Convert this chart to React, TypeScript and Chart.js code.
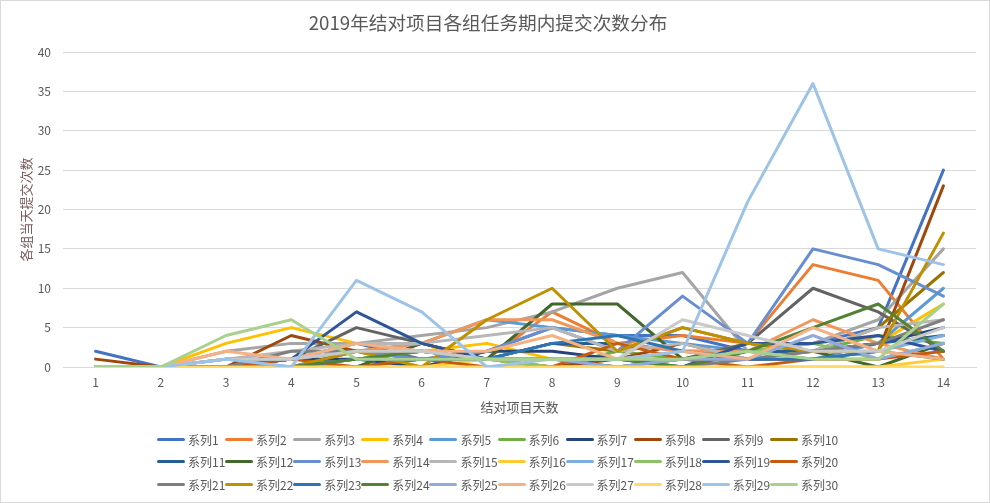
import React, { useEffect, useRef } from "react";
import { Chart, registerables } from "chart.js";

Chart.register(...registerables);

const chartTitle = "2019年结对项目各组任务期内提交次数分布";
const xTitle = "结对项目天数";
const yTitle = "各组当天提交次数";
const days = ["1", "2", "3", "4", "5", "6", "7", "8", "9", "10", "11", "12", "13", "14"];

const series01 = [2, 0, 0, 1, 3, 1, 2, 5, 4, 4, 2, 3, 5, 25];
const series02 = [0, 0, 0, 0, 2, 1, 1, 7, 3, 4, 3, 13, 11, 1];
const series03 = [0, 0, 2, 3, 3, 4, 5, 7, 10, 12, 2, 3, 6, 15];
const series04 = [0, 0, 3, 5, 3, 2, 3, 1, 0, 1, 3, 2, 3, 8];
const series05 = [0, 0, 1, 0, 2, 3, 6, 5, 4, 3, 2, 1, 3, 10];
const series06 = [0, 0, 0, 0, 0, 1, 1, 0, 2, 1, 3, 2, 4, 3];
const series07 = [0, 0, 0, 1, 1, 0, 2, 2, 1, 1, 2, 2, 3, 5];
const series08 = [1, 0, 0, 4, 2, 1, 1, 0, 1, 3, 1, 1, 2, 23];
const series09 = [0, 0, 0, 1, 5, 3, 1, 1, 0, 1, 3, 10, 7, 2];
const series10 = [0, 0, 0, 0, 0, 1, 1, 3, 2, 5, 3, 2, 5, 12];
const series11 = [0, 0, 0, 0, 1, 2, 1, 3, 3, 2, 2, 2, 3, 4];
const series12 = [0, 0, 0, 0, 0, 3, 1, 8, 8, 1, 1, 2, 0, 3];
const series13 = [0, 0, 1, 1, 2, 1, 2, 5, 2, 9, 3, 15, 13, 9];
const series14 = [0, 0, 0, 1, 2, 3, 6, 6, 3, 2, 2, 6, 3, 1];
const series15 = [0, 0, 1, 2, 3, 3, 4, 5, 2, 3, 1, 2, 5, 6];
const series16 = [0, 0, 0, 0, 0, 0, 1, 0, 0, 0, 0, 0, 0, 1];
const series17 = [0, 0, 1, 1, 2, 2, 1, 1, 1, 1, 2, 1, 2, 4];
const series18 = [0, 0, 0, 0, 1, 2, 1, 0, 0, 1, 2, 3, 1, 3];
const series19 = [0, 0, 0, 1, 7, 3, 1, 1, 1, 0, 3, 3, 4, 2];
const series20 = [0, 0, 0, 1, 0, 1, 0, 0, 3, 1, 0, 1, 1, 2];
const series21 = [0, 0, 0, 2, 2, 2, 1, 1, 1, 0, 1, 2, 3, 6];
const series22 = [0, 0, 0, 0, 2, 0, 6, 10, 2, 5, 3, 2, 2, 17];
const series23 = [0, 0, 0, 0, 1, 1, 1, 3, 4, 2, 1, 1, 2, 1];
const series24 = [0, 0, 0, 0, 1, 2, 1, 1, 1, 0, 2, 5, 8, 2];
const series25 = [0, 0, 1, 1, 3, 2, 1, 1, 0, 1, 1, 4, 1, 3];
const series26 = [0, 0, 2, 1, 3, 2, 2, 4, 1, 2, 1, 5, 2, 1];
const series27 = [0, 0, 1, 1, 2, 2, 1, 1, 1, 6, 4, 2, 2, 5];
const series28 = [0, 0, 0, 0, 0, 0, 0, 0, 0, 0, 0, 0, 0, 0];
const series29 = [0, 0, 1, 0, 11, 7, 0, 1, 1, 2, 21, 36, 15, 13];
const series30 = [0, 0, 4, 6, 1, 1, 1, 1, 1, 1, 2, 1, 1, 8];

const seriesValues = [
  series01, series02, series03, series04, series05, series06, series07, series08, series09, series10,
  series11, series12, series13, series14, series15, series16, series17, series18, series19, series20,
  series21, series22, series23, series24, series25, series26, series27, series28, series29, series30,
];

const seriesNames = seriesValues.map((_, i) => "系列" + (i + 1));

const seriesColors = [
  "#4472C4", "#ED7D31", "#A5A5A5", "#FFC000", "#5B9BD5", "#70AD47",
  "#264478", "#9E480E", "#636363", "#997300", "#255E91", "#43682B",
  "#698ED0", "#F1975A", "#B7B7B7", "#FFCD33", "#7CAFDD", "#8CC168",
  "#2F5597", "#C55A11", "#7F7F7F", "#BF9000", "#2E75B6", "#548235",
  "#8FAADC", "#F4B183", "#C9C9C9", "#FFD966", "#9DC3E6", "#A9D18E",
];

const FONT = "'Noto Sans CJK SC', 'Noto Sans', sans-serif";
const TEXT = "#595959";

export default function App() {
  const canvasRef = useRef<HTMLCanvasElement | null>(null);

  useEffect(() => {
    const canvas = canvasRef.current;
    if (!canvas) return;
    const chart = new Chart(canvas, {
      type: "line",
      data: {
        labels: days,
        datasets: seriesValues.map((vals, i) => ({
          label: seriesNames[i],
          data: vals,
          borderColor: seriesColors[i],
          backgroundColor: seriesColors[i],
          borderWidth: 3,
          pointRadius: 0,
          pointHoverRadius: 0,
          tension: 0,
          fill: false,
          order: seriesValues.length - i,
          borderCapStyle: "round" as const,
          borderJoinStyle: "round" as const,
        })),
      },
      options: {
        responsive: false,
        animation: false,
        layout: { padding: { left: 0, right: 14, top: 0, bottom: 86 } },
        plugins: {
          legend: { display: false },
          tooltip: { enabled: false },
          title: {
            display: true,
            text: chartTitle,
            color: TEXT,
            font: { family: FONT, size: 18.67, weight: "normal", lineHeight: 1.2 },
            padding: { top: 12, bottom: 17.6 },
          },
        },
        scales: {
          x: {
            type: "category",
            offset: true,
            grid: { display: false, drawTicks: false },
            border: { display: true, color: "#D9D9D9", width: 1 },
            ticks: {
              color: TEXT,
              font: { family: FONT, size: 12 },
              padding: 8,
              autoSkip: false,
              maxRotation: 0,
            },
            title: {
              display: true,
              text: xTitle,
              color: TEXT,
              font: { family: FONT, size: 13, lineHeight: 1.2 },
              padding: { top: 0, bottom: 2 },
            },
            afterFit: (scale: any) => {
              scale.height = 50;
            },
          },
          y: {
            min: 0,
            max: 40,
            grid: { color: "#D9D9D9", lineWidth: 1, drawTicks: false },
            border: { display: false },
            ticks: {
              stepSize: 5,
              color: TEXT,
              font: { family: FONT, size: 12 },
              padding: 12,
            },
            title: {
              display: true,
              text: yTitle,
              color: "#7A5C5C",
              font: { family: FONT, size: 13, lineHeight: 1.2 },
              padding: { top: 18, bottom: 0 },
            },
            afterFit: (scale: any) => {
              scale.width = 63;
            },
          },
        },
      },
    });
    return () => chart.destroy();
  }, []);

  const colW = 68.1;
  const rowH = 22.5;

  return (
    <div
      style={{
        position: "fixed",
        left: 0,
        top: 0,
        width: 990,
        height: 503,
        background: "#FFFFFF",
        overflow: "hidden",
      }}
    >
      <canvas ref={canvasRef} width={990} height={503} style={{ position: "absolute", left: 0, top: 0 }} />
      <div
        style={{
          position: "absolute",
          left: 0,
          top: 0,
          width: 990,
          height: 503,
          boxSizing: "border-box",
          border: "1px solid #D9D9D9",
          pointerEvents: "none",
        }}
      />
      {seriesNames.map((name, i) => {
        const row = Math.floor(i / 10);
        const col = i % 10;
        return (
          <div
            key={name}
            style={{
              position: "absolute",
              left: 157 + col * colW,
              top: 428 + row * rowH,
              height: rowH,
              display: "flex",
              alignItems: "center",
              whiteSpace: "nowrap",
              fontFamily: FONT,
              fontSize: 12,
              color: TEXT,
            }}
          >
            <span
              style={{
                display: "inline-block",
                width: 28,
                height: 3,
                background: seriesColors[i],
                borderRadius: 1.5,
                marginRight: 3,
              }}
            />
            <span>{name}</span>
          </div>
        );
      })}
    </div>
  );
}
